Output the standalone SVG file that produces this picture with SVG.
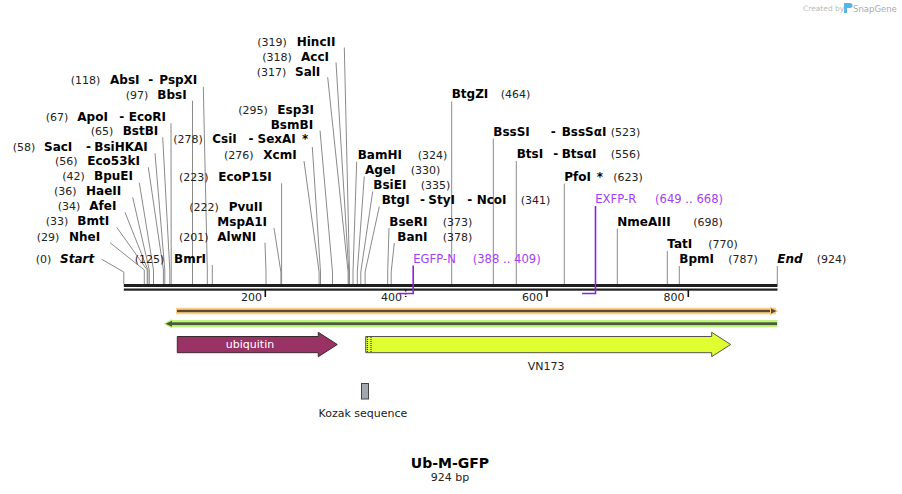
<svg xmlns="http://www.w3.org/2000/svg" width="902" height="494" viewBox="0 0 902 494">
<style>
text{font-family:"DejaVu Sans","Verdana",sans-serif;font-size:11px;fill:#222}
.e{font-weight:bold;font-size:12px;fill:#000}
.i{font-weight:bold;font-style:italic;font-size:12px;fill:#000}
.p{fill:#a43ef2;font-size:11.6px}
.ld{stroke:#8a8a8a;stroke-width:1;fill:none}
.pr{stroke:#8f22dc;stroke-width:1.6;fill:none}
.tk{stroke:#111;stroke-width:1.6}
</style>
<rect width="902" height="494" fill="#fff"/>

<!-- SnapGene credit -->
<g id="credit">
<text x="803" y="11" style="font-size:7.5px;fill:#bbb">Created by</text>
<path d="M844,3 h6 a2.5,2.5 0 0 1 0,5 h-3 v5 h-3 z" fill="#5ab4e6"/>
<text x="853" y="11.5" style="font-size:8.5px;fill:#a9a9a9">SnapGene</text>
</g>

<!-- connectors: leader lines -->
<g id="connectors">
<path class="ld" d="M101.7,259.3 L123.8,272 V284"/>
<path class="ld" d="M110,242.7 L144.3,270 V284"/>
<path class="ld" d="M116.7,227.3 L147.2,270 V284"/>
<path class="ld" d="M125,212.3 L147.9,270 V284"/>
<path class="ld" d="M132.7,197.3 L149.3,270 V284"/>
<path class="ld" d="M139.3,182.7 L153.5,270 V284"/>
<path class="ld" d="M148.3,167.3 L163.4,270 V284"/>
<path class="ld" d="M155,153.3 L164.8,270 V284"/>
<path class="ld" d="M162.7,137.3 L169.8,270 V284"/>
<path class="ld" d="M171,123.3 L171.2,270 V284"/>
<path class="ld" d="M192.5,100.7 V284"/>
<path class="ld" d="M203.3,86.7 L207.3,270 V284"/>
<path class="ld" d="M212.3,265 V284"/>
<path class="ld" d="M265,242.7 L266,272 V284"/>
<path class="ld" d="M274,228 L280.9,272 V284"/>
<path class="ld" d="M281.6,183.3 V284"/>
<path class="ld" d="M304,161 L319.1,272 V284"/>
<path class="ld" d="M312.3,147 L320.5,272 V284"/>
<path class="ld" d="M320,130.5 L332.5,272 V284"/>
<path class="ld" d="M327.7,77.3 L348.1,272 V284"/>
<path class="ld" d="M336,62.3 L348.8,272 V284"/>
<path class="ld" d="M344.3,47.5 L349.5,272 V284"/>
<path class="ld" d="M356.7,161.7 L353,272 V284"/>
<path class="ld" d="M364.3,176.5 L357.3,272 V284"/>
<path class="ld" d="M372.7,191.5 L360.8,272 V284"/>
<path class="ld" d="M379.3,206.5 L365.1,272 V284"/>
<path class="ld" d="M389,228 L387.7,272 V284"/>
<path class="ld" d="M394.3,243 L391.2,272 V284"/>
<path class="ld" d="M451.7,101.5 V284"/>
<path class="ld" d="M493.3,138.5 V284"/>
<path class="ld" d="M516.3,161 V284"/>
<path class="ld" d="M564.3,183.5 V284"/>
<path class="ld" d="M617.3,228.5 V284"/>
<path class="ld" d="M667.3,251 V284"/>
<path class="ld" d="M679.3,266 V284"/>
<path class="ld" d="M777.3,266 V284"/>
</g>

<!-- sequence backbone -->
<g id="backbone">
<rect x="123.8" y="284" width="653.7" height="3" fill="#1e1e1e"/>
<rect x="123.8" y="288.5" width="653.7" height="2.2" fill="#1e1e1e"/>
<line class="tk" x1="265.3" y1="290" x2="265.3" y2="297"/>
<line class="tk" x1="405.7" y1="290" x2="405.7" y2="297" stroke-dasharray="1.5,1.5"/>
<line class="tk" x1="547" y1="290" x2="547" y2="297"/>
<line class="tk" x1="688.3" y1="290" x2="688.3" y2="297"/>
<text x="262" y="301" text-anchor="end">200</text>
<text x="402" y="301" text-anchor="end">400</text>
<text x="543" y="301" text-anchor="end">600</text>
<text x="684.5" y="301" text-anchor="end">800</text>
</g>

<!-- primers -->
<g id="EGFP-N">
<path class="pr" d="M398.3,293.5 H413.2 V265.5"/>
<text class="p" x="413.3" y="263.3">EGFP-N</text>
<text class="p" x="472.7" y="263.3">(388 .. 409)</text>
</g>
<g id="EXFP-R">
<path class="pr" d="M582,293.5 H595.5 V206"/>
<text class="p" x="595.3" y="203.3">EXFP-R</text>
<text class="p" x="655" y="203.3">(649 .. 668)</text>
</g>

<!-- enzyme labels, left cluster -->
<g id="Start"><text x="35.7" y="263">(0)</text><text class="i" x="60" y="263">Start</text></g>
<g id="NheI"><text x="36.7" y="240.7">(29)</text><text class="e" x="69" y="240.7">NheI</text></g>
<g id="BmtI"><text x="45.7" y="224.7">(33)</text><text class="e" x="77.3" y="224.7">BmtI</text></g>
<g id="AfeI"><text x="57.7" y="210">(34)</text><text class="e" x="89.3" y="210">AfeI</text></g>
<g id="HaeII"><text x="54" y="195.3">(36)</text><text class="e" x="86" y="195.3">HaeII</text></g>
<g id="BpuEI"><text x="62.3" y="180">(42)</text><text class="e" x="94" y="180">BpuEI</text></g>
<g id="Eco53kI"><text x="55" y="165.3">(56)</text><text class="e" x="87.3" y="165.3">Eco53kI</text></g>
<g id="SacI"><text x="12.7" y="150.7">(58)</text><text class="e" x="44" y="150.7">SacI</text><text class="e" x="86" y="150.7">-</text><text class="e" x="94.3" y="150.7">BsiHKAI</text></g>
<g id="BstBI"><text x="90.7" y="135.3">(65)</text><text class="e" x="122.7" y="135.3">BstBI</text></g>
<g id="ApoI"><text x="45.7" y="120.7">(67)</text><text class="e" x="77.3" y="120.7">ApoI</text><text class="e" x="119.3" y="120.7">-</text><text class="e" x="128.7" y="120.7">EcoRI</text></g>
<g id="BbsI"><text x="125.7" y="98.7">(97)</text><text class="e" x="157.3" y="98.7">BbsI</text></g>
<g id="AbsI"><text x="70.7" y="84">(118)</text><text class="e" x="110" y="84">AbsI</text><text class="e" x="148.3" y="84">-</text><text class="e" x="159.3" y="84">PspXI</text></g>
<g id="BmrI"><text x="134.7" y="263">(125)</text><text class="e" x="174" y="263">BmrI</text></g>

<!-- middle cluster -->
<g id="AlwNI"><text x="179" y="240.7">(201)</text><text class="e" x="217.3" y="240.7">AlwNI</text></g>
<g id="PvuII"><text x="189.3" y="211">(222)</text><text class="e" x="228.7" y="211">PvuII</text><text class="e" x="217.3" y="225.7">MspA1I</text></g>
<g id="EcoP15I"><text x="179" y="180.7">(223)</text><text class="e" x="218.3" y="180.7">EcoP15I</text></g>
<g id="XcmI"><text x="224" y="159">(276)</text><text class="e" x="263.3" y="159">XcmI</text></g>
<g id="CsiI"><text x="173.3" y="143.3">(278)</text><text class="e" x="212.3" y="143.3">CsiI</text><text class="e" x="248.5" y="143.3">-</text><text class="e" x="257.5" y="143.3">SexAI</text><text class="e" x="302" y="143.3">*</text></g>
<g id="Esp3I"><text x="238.3" y="114">(295)</text><text class="e" x="277.3" y="114">Esp3I</text><text class="e" x="270.7" y="128.7">BsmBI</text></g>
<g id="SalI"><text x="256.7" y="75.7">(317)</text><text class="e" x="295" y="75.7">SalI</text></g>
<g id="AccI"><text x="262.3" y="60.7">(318)</text><text class="e" x="301" y="60.7">AccI</text></g>
<g id="HincII"><text x="257.3" y="46">(319)</text><text class="e" x="296.7" y="46">HincII</text></g>
<g id="BamHI"><text class="e" x="357.7" y="159">BamHI</text><text x="417.7" y="159">(324)</text></g>
<g id="AgeI"><text class="e" x="365" y="174">AgeI</text><text x="410.7" y="174">(330)</text></g>
<g id="BsiEI"><text class="e" x="373.3" y="189">BsiEI</text><text x="420.7" y="189">(335)</text></g>
<g id="BtgI"><text class="e" x="381.7" y="204">BtgI</text><text class="e" x="420" y="204">-</text><text class="e" x="428.3" y="204">StyI</text><text class="e" x="467.3" y="204">-</text><text class="e" x="476.7" y="204">NcoI</text><text x="520.7" y="204">(341)</text></g>
<g id="BseRI"><text class="e" x="389.3" y="226">BseRI</text><text x="442.7" y="226">(373)</text></g>
<g id="BanI"><text class="e" x="397.3" y="241">BanI</text><text x="442.7" y="241">(378)</text></g>

<!-- right cluster -->
<g id="BtgZI"><text class="e" x="451.7" y="98.3">BtgZI</text><text x="500.7" y="98.3">(464)</text></g>
<g id="BssSI"><text class="e" x="493.3" y="135.7">BssSI</text><text class="e" x="550.7" y="135.7">-</text><text class="e" x="561.7" y="135.7">BssSαI</text><text x="610.7" y="135.7">(523)</text></g>
<g id="BtsI"><text class="e" x="516.7" y="158.3">BtsI</text><text class="e" x="553.3" y="158.3">-</text><text class="e" x="561.7" y="158.3">BtsαI</text><text x="610.7" y="158.3">(556)</text></g>
<g id="PfoI"><text class="e" x="564.3" y="180.7">PfoI</text><text class="e" x="596.7" y="180.7">*</text><text x="613.3" y="180.7">(623)</text></g>
<g id="NmeAIII"><text class="e" x="617.3" y="226">NmeAIII</text><text x="693.3" y="226">(698)</text></g>
<g id="TatI"><text class="e" x="667.3" y="248.3">TatI</text><text x="708.3" y="248.3">(770)</text></g>
<g id="BpmI"><text class="e" x="679.3" y="263.3">BpmI</text><text x="728.3" y="263.3">(787)</text></g>
<g id="End"><text class="i" x="777.3" y="263.3">End</text><text x="816.7" y="263.3">(924)</text></g>

<!-- features -->
<g id="orange-feature">
<rect x="176" y="307.7" width="600" height="6.6" fill="#fbcf85"/>
<rect x="177" y="309.8" width="594" height="2.4" fill="#5a4a36"/>
<polygon points="770,306.5 778.5,311 770,315.5" fill="#fbcf85"/>
<polygon points="771,308.2 776.5,311 771,313.8" fill="#5a4a36"/>
</g>
<g id="green-feature">
<rect x="170" y="320" width="607.5" height="7.3" fill="#bdf47c"/>
<rect x="172" y="322.3" width="605" height="2.8" fill="#4c5a3c"/>
<polygon points="163.5,323.7 172,319 172,328.4" fill="#bdf47c"/>
<polygon points="165.5,323.7 172,320.7 172,326.7" fill="#4c5a3c"/>
</g>
<g id="ubiquitin">
<polygon points="177.3,336.5 318.3,336.5 318.3,332.3 337.3,344.5 318.3,356.7 318.3,352.7 177.3,352.7" fill="#993366" stroke="#3a2a30" stroke-width="1"/>
<text x="250" y="348.3" text-anchor="middle" style="font-size:11px;fill:#fff">ubiquitin</text>
</g>
<g id="VN173">
<polygon points="365.7,336.5 711.7,336.5 711.7,332.3 730.7,344.5 711.7,356.7 711.7,352.7 365.7,352.7" fill="#dfff30" stroke="#555" stroke-width="1"/>
<line x1="367.3" y1="337" x2="367.3" y2="352.3" stroke="#111" stroke-width="1" stroke-dasharray="1,1"/>
<line x1="371" y1="337" x2="371" y2="352.3" stroke="#111" stroke-width="1" stroke-dasharray="1,1"/>
<text x="546" y="370" text-anchor="middle">VN173</text>
</g>
<g id="Kozak">
<rect x="361.5" y="383.5" width="7" height="15.5" fill="#a3a7ae" stroke="#444" stroke-width="1"/>
<text x="363" y="416.5" text-anchor="middle">Kozak sequence</text>
</g>

<!-- title -->
<g id="title">
<text x="450" y="468.3" text-anchor="middle" style="font-size:14px;font-weight:bold;fill:#000">Ub-M-GFP</text>
<text x="450" y="480.7" text-anchor="middle">924 bp</text>
</g>
</svg>
